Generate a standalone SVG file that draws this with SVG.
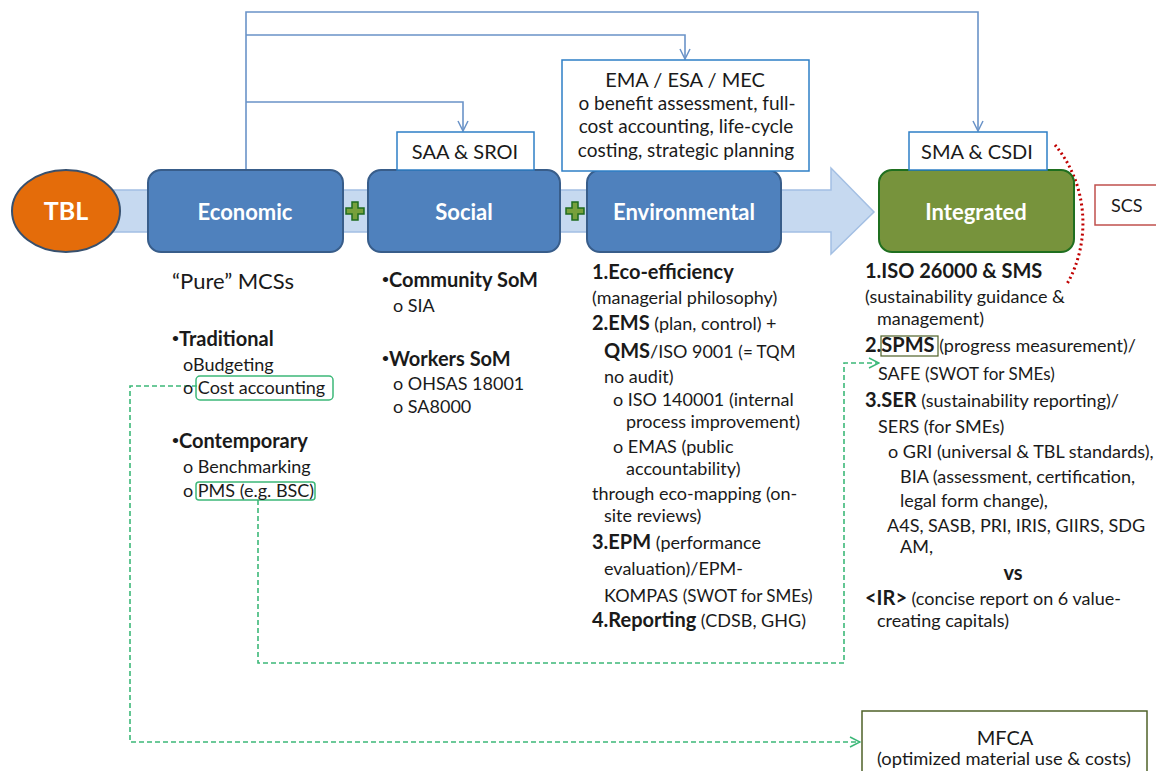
<svg xmlns="http://www.w3.org/2000/svg" width="1156" height="771" viewBox="0 0 1156 771">
<style>
text{font-family:Lato,"Open Sans","Liberation Sans",sans-serif;fill:#1a1a1a}
.t{font-size:18px}
.s{font-size:17px}
.b{font-weight:bold;font-size:20px}
.bh{font-size:20px;font-weight:bold}
.bu{font-size:12px}
.lbl{font-size:22px;font-weight:bold;fill:#fff;text-anchor:middle}
.box{fill:#fff;stroke:#2e7fc6;stroke-width:1.5}
.blk{fill:#4f81bd;stroke:#385d8a;stroke-width:2}
.conn{fill:none;stroke:#6a93c8;stroke-width:1.6}
.dash{fill:none;stroke:#3cb878;stroke-width:1.6;stroke-dasharray:5,3}
.hl{fill:none;stroke:#3cb878;stroke-width:1.5}
.c{text-anchor:middle}
</style>
<defs>
<marker id="ab" viewBox="0 0 12 12" refX="11" refY="6" markerWidth="12" markerHeight="12" markerUnits="userSpaceOnUse" orient="auto">
<path d="M1,1 L11,6 L1,11" fill="none" stroke="#6a93c8" stroke-width="1.5"/>
</marker>
<marker id="ag" viewBox="0 0 12 12" refX="11" refY="6" markerWidth="12" markerHeight="12" markerUnits="userSpaceOnUse" orient="auto">
<path d="M1,1 L11,6 L1,11" fill="none" stroke="#3cb878" stroke-width="1.5"/>
</marker>
<g id="plus">
<path d="M-3,-9 H3 V-3 H9 V3 H3 V9 H-3 V3 H-9 V-3 H-3 Z" fill="#77a03c" stroke="#1f6b1f" stroke-width="1.5"/>
</g>
</defs>
<rect width="1156" height="771" fill="#fff"/>

<g id="band">
<path d="M110,190 H831 V168 L874,212 L831,254 V232 H110 Z" fill="#c6d9f0" stroke="#a3bfe3" stroke-width="1.5"/>
</g>

<g id="connectors">
<path class="conn" d="M246,170 V12 H978 V131" marker-end="url(#ab)"/>
<path class="conn" d="M246,35 H685 V59" marker-end="url(#ab)"/>
<path class="conn" d="M246,102 H463 V131" marker-end="url(#ab)"/>
<path class="dash" d="M197,386 H130 V742 H860" marker-end="url(#ag)"/>
<path class="dash" d="M258,500 V663 H844 V363 H879" marker-end="url(#ag)"/>
<path d="M1055,145 A105 115 0 0 1 1067,284" fill="none" stroke="#c00000" stroke-width="3" stroke-dasharray="2,3"/>
</g>

<g id="tbl">
<ellipse cx="66" cy="211" rx="54" ry="41" fill="#e46c0a" stroke="#37506e" stroke-width="2"/>
<text x="66" y="220" class="lbl" style="font-size:25px">TBL</text>
</g>

<g id="economic">
<rect x="148" y="170" width="195" height="82" rx="13" class="blk"/>
<text x="245" y="220" class="lbl">Economic</text>
</g>
<use href="#plus" x="355" y="211"/>
<g id="social">
<rect x="368" y="170" width="192" height="82" rx="13" class="blk"/>
<text x="464" y="220" class="lbl">Social</text>
</g>
<use href="#plus" x="575" y="211"/>
<g id="environmental">
<rect x="587" y="170" width="194" height="82" rx="13" class="blk"/>
<text x="684" y="220" class="lbl">Environmental</text>
</g>
<g id="integrated">
<rect x="879" y="170" width="195" height="82" rx="13" fill="#77933c" stroke="#1f6f1f" stroke-width="2"/>
<text x="976" y="220" class="lbl">Integrated</text>
</g>

<g id="saa">
<rect x="397" y="132" width="137" height="38" class="box"/>
<text x="465" y="159" class="c" style="font-size:20px">SAA &amp; SROI</text>
</g>
<g id="ema">
<rect x="562" y="60" width="247" height="111" class="box"/>
<text x="685" y="87" class="c" style="font-size:20px">EMA / ESA / MEC</text>
<text x="687" y="110" class="c" style="font-size:19px">o benefit assessment, full-</text>
<text x="686" y="133" class="c" style="font-size:19px">cost accounting, life-cycle</text>
<text x="686" y="157" class="c" style="font-size:19px">costing, strategic planning</text>
</g>
<g id="sma">
<rect x="909" y="132" width="138" height="38" class="box"/>
<text x="977" y="159" class="c" style="font-size:20px">SMA &amp; CSDI</text>
</g>
<g id="scs">
<rect x="1095" y="185" width="70" height="40" fill="#fff" stroke="#c0504d" stroke-width="1.5"/>
<text x="1111" y="212" class="t">SCS</text>
</g>

<g id="economic-list">
<text x="172" y="289" style="font-size:22px">“Pure” MCSs</text>
<text x="172" y="346" class="bh"><tspan class="bu" dy="-4">•</tspan><tspan dy="4">Traditional</tspan></text>
<text x="183" y="371" class="t">oBudgeting</text>
<rect x="196" y="376" width="137" height="24" rx="4" class="hl"/>
<text x="183" y="394" class="t">o Cost accounting</text>
<text x="172" y="448" class="bh"><tspan class="bu" dy="-4">•</tspan><tspan dy="4">Contemporary</tspan></text>
<text x="183" y="473" class="t">o Benchmarking</text>
<rect x="196" y="482" width="119" height="18" rx="3" class="hl"/>
<text x="183" y="497" class="t">o PMS (e.g. BSC)</text>
</g>

<g id="social-list">
<text x="382" y="287" class="bh"><tspan class="bu" dy="-4">•</tspan><tspan dy="4">Community SoM</tspan></text>
<text x="393" y="312" class="t">o SIA</text>
<text x="382" y="366" class="bh"><tspan class="bu" dy="-4">•</tspan><tspan dy="4">Workers SoM</tspan></text>
<text x="393" y="390" class="t">o OHSAS 18001</text>
<text x="393" y="413" class="t">o SA8000</text>
</g>

<g id="environmental-list">
<text x="592" y="279" class="bh">1.Eco-efficiency</text>
<text x="592" y="304" class="t">(managerial philosophy)</text>
<text x="592" y="330" class="t"><tspan class="b">2.EMS</tspan> (plan, control) +</text>
<text x="604" y="358" class="t"><tspan class="b">QMS</tspan>/ISO 9001 <tspan class="s">(= TQM</tspan></text>
<text x="604" y="383" class="t">no audit)</text>
<text x="613" y="406" class="t">o ISO 140001 (internal</text>
<text x="626" y="428" class="t">process improvement)</text>
<text x="613" y="453" class="t">o EMAS (public</text>
<text x="626" y="475" class="t">accountability)</text>
<text x="592" y="500" class="t">through eco-mapping (on-</text>
<text x="604" y="522" class="t">site reviews)</text>
<text x="592" y="549" class="t"><tspan class="b">3.EPM</tspan> (performance</text>
<text x="604" y="575" class="t">evaluation)/EPM-</text>
<text x="604" y="602" class="t">KOMPAS  <tspan class="s">(SWOT for SMEs)</tspan></text>
<text x="592" y="627" class="t"><tspan class="b">4.Reporting</tspan> (CDSB, GHG)</text>
</g>

<g id="integrated-list">
<text x="865" y="278" class="bh">1.ISO 26000 &amp; SMS</text>
<text x="865" y="303" class="t">(sustainability guidance &amp;</text>
<text x="877" y="325" class="t">management)</text>
<rect x="881" y="336" width="57" height="20" fill="none" stroke="#4f6228" stroke-width="1.2"/>
<text x="865" y="352" class="t"><tspan class="b">2.SPMS</tspan> (progress measurement)/</text>
<text x="878" y="380" class="t">SAFE  <tspan class="s">(SWOT for SMEs)</tspan></text>
<text x="865" y="407" class="t"><tspan class="b">3.SER</tspan> (sustainability reporting)/</text>
<text x="878" y="433" class="t">SERS (for SMEs)</text>
<text x="888" y="458" class="t">o GRI (universal &amp; TBL standards),</text>
<text x="900" y="483" class="t">BIA (assessment, certification,</text>
<text x="900" y="507" class="t">legal form change),</text>
<text x="887" y="532" class="t">A4S, SASB, PRI, IRIS, GIIRS, SDG</text>
<text x="900" y="553" class="t">AM,</text>
<text x="1013" y="580" class="b c">vs</text>
<text x="865" y="605" class="t"><tspan class="b">&lt;IR&gt;</tspan> (concise report on 6 value-</text>
<text x="877" y="627" class="t">creating capitals)</text>
</g>

<g id="mfca">
<rect x="862" y="711" width="285" height="70" fill="#fff" stroke="#4f6228" stroke-width="1.5"/>
<text x="1005" y="745" class="c" style="font-size:20px">MFCA</text>
<text x="1004" y="765" class="c" style="font-size:17px" textLength="254" lengthAdjust="spacingAndGlyphs">(optimized material use &amp; costs)</text>
</g>
</svg>
